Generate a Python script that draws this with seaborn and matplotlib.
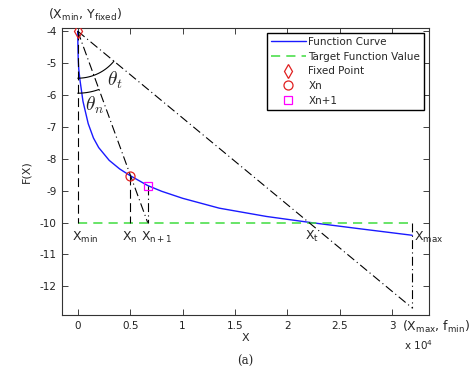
import numpy as np
import matplotlib
matplotlib.use("Agg")
import matplotlib.pyplot as plt
from matplotlib.transforms import ScaledTranslation
import seaborn as sns

# values (x in units of 1e4)
curve_x = [0, 0.002, 0.005, 0.01, 0.02, 0.05, 0.1, 0.15, 0.2, 0.3, 0.4,
           0.5, 0.667, 0.8, 1.0, 1.35, 1.8, 2.22, 2.7, 3.19]
curve_y = [-4, -4.5, -4.9, -5.2, -5.5, -6.2, -6.9, -7.35, -7.65, -8.05, -8.32,
           -8.53, -8.84, -9.02, -9.24, -9.55, -9.81, -10.0, -10.2, -10.4]

x_min, y_fixed = 0, -4
x_n, f_n = 0.5, -8.53
x_n1, f_n1 = 0.667, -8.84
x_t = 2.22
x_max, f_max = 3.19, -10.4
f_min = -12.68
target = -10

x_ticks = [0, 0.5, 1, 1.5, 2, 2.5, 3]
x_tick_labels = ["0", "0.5", "1", "1.5", "2", "2.5", "3"]
y_ticks = [-12, -11, -10, -9, -8, -7, -6, -5, -4]

sns.set_style("ticks")
plt.rcParams["font.family"] = ["DejaVu Sans"]
plt.rcParams["axes.unicode_minus"] = False

fig = plt.figure(figsize=(4.74, 3.79), dpi=100)
ax = fig.add_axes([62 / 474, 1 - 315 / 379, 367 / 474, 287 / 379])
ax.set_xlim(-0.15, 3.35)
ax.set_ylim(-12.9, -3.9)

# curve and target value
sns.lineplot(x=curve_x, y=curve_y, color="#1a1aff", lw=1.0,
             label="Function Curve", ax=ax)
sns.lineplot(x=[x_min, x_max], y=[target, target], color="#3fdc3f", lw=1.1,
             linestyle=(0, (6, 4)), label="Target Function Value", ax=ax)

# construction lines
k = dict(color="black", lw=0.8)
ax.plot([x_min, x_min], [y_fixed, target], linestyle=(0, (8, 4)), **k)
ax.plot([x_n, x_n], [f_n, target], linestyle=(0, (8, 4)), **k)
ax.plot([x_n1, x_n1], [f_n1, target], linestyle=(0, (8, 3, 1, 3)), **k)
ax.plot([x_min, x_n1], [y_fixed, target], linestyle=(0, (8, 3, 1, 3)), **k)
ax.plot([x_min, x_max], [y_fixed, f_min], linestyle=(0, (8, 3, 1, 3)), **k)
ax.plot([x_max, x_max], [target, f_min], linestyle=(0, (8, 3, 1, 3)), **k)

# points
ax.plot([x_min], [y_fixed], marker="d", ms=7, mfc="none", mec="#e02020",
        mew=0.9, ls="none", label="Fixed Point", zorder=5)
ax.plot([x_n], [f_n], marker="o", ms=6.5, mfc="none", mec="#e02020",
        mew=0.9, ls="none", label="Xn", zorder=5)
ax.plot([x_n1], [f_n1], marker="s", ms=6, mfc="none", mec="#ff00ff",
        mew=0.9, ls="none", label="Xn+1", zorder=5)

# angle arcs in screen space around the fixed point
p0 = ax.transData.transform((x_min, y_fixed))
pt = ax.transData.transform((x_max, f_min))
pn = ax.transData.transform((x_n1, target))
ang_t = np.degrees(np.arctan2(pt[1] - p0[1], pt[0] - p0[0]))
ang_n = np.degrees(np.arctan2(pn[1] - p0[1], pn[0] - p0[0]))
arc_tr = fig.dpi_scale_trans + ScaledTranslation(x_min, y_fixed, ax.transData)
for r, a in [(0.47, ang_t), (0.62, ang_n)]:
    th = np.radians(np.linspace(-90, a, 40))
    ax.plot(r * np.cos(th), r * np.sin(th), transform=arc_tr, color="black", lw=0.8)

ax.text(0.353, -5.53, r"$\theta_t$", fontsize=14, math_fontfamily="cm",
        ha="center", va="center")
ax.text(0.162, -6.34, r"$\theta_n$", fontsize=14, math_fontfamily="cm",
        ha="center", va="center")

lab = dict(fontsize=9, va="center", ha="left", math_fontfamily="dejavusans")
ax.text(-0.057, -10.47, r"X$_{\mathrm{min}}$", **lab)
ax.text(0.42, -10.47, r"X$_{\mathrm{n}}$", **lab)
ax.text(0.607, -10.47, r"X$_{\mathrm{n+1}}$", **lab)
ax.text(2.164, -10.44, r"X$_{\mathrm{t}}$", **lab)
ax.text(3.203, -10.47, r"X$_{\mathrm{max}}$", **lab)
ax.text(-0.286, -3.5, r"(X$_{\mathrm{min}}$, Y$_{\mathrm{fixed}}$)", **lab)
ax.text(3.09, -13.28, r"(X$_{\mathrm{max}}$, f$_{\mathrm{min}}$)", **lab)
ax.text(3.11, -13.84, r"x 10$^{4}$", fontsize=7.5, va="center", ha="left",
        math_fontfamily="dejavusans")
fig.text(0.517, 0.0475, "(a)", fontsize=8.5, ha="center", va="center",
         family="DejaVu Serif")

ax.set_xticks(x_ticks)
ax.set_xticklabels(x_tick_labels)
ax.set_yticks(y_ticks)
ax.tick_params(direction="in", length=4, width=0.6, top=True, right=True,
               labelsize=7.5, pad=4, colors="#222222")
for s in ax.spines.values():
    s.set_linewidth(0.8)
    s.set_color("#333333")
ax.set_xlabel("X", fontsize=8, labelpad=2)
ax.set_ylabel("F(X)", fontsize=8, labelpad=6)

ax.legend(loc="upper right", fontsize=7.5, frameon=True, fancybox=False,
          edgecolor="black", framealpha=1, handlelength=3.4,
          handletextpad=0.2, borderpad=0.4, labelspacing=0.45,
          borderaxespad=0.45)

fig.savefig("out.png", dpi=100)
